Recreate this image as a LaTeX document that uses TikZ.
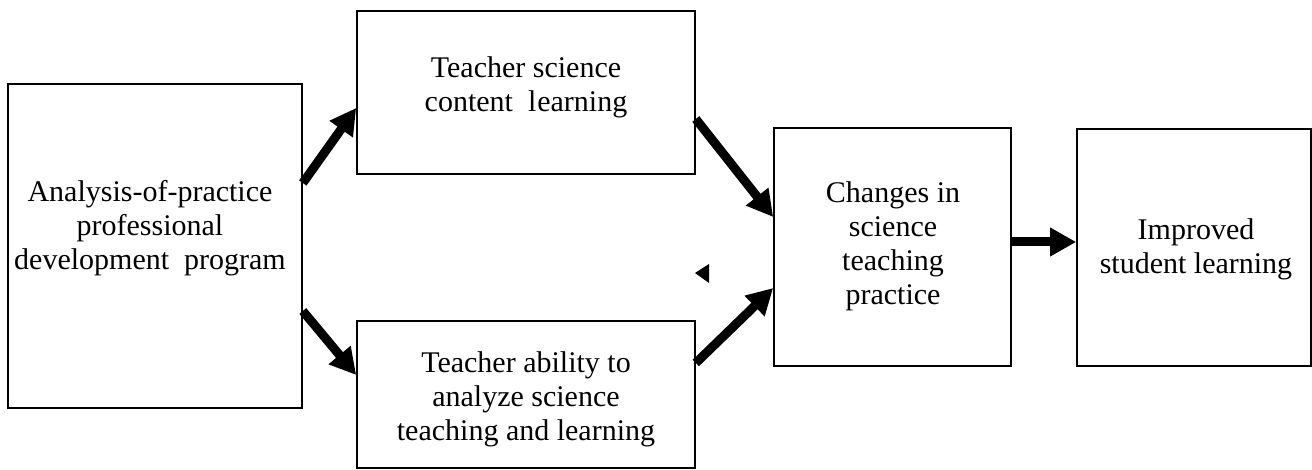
\documentclass[tikz,border=0pt]{standalone}
\usepackage{fontspec}
\setmainfont{Liberation Serif}
\usetikzlibrary{arrows.meta}
\begin{document}
\begin{tikzpicture}[x=1pt,y=-1pt,
  box/.style={draw, line width=1.6pt, inner sep=0pt, rectangle},
  lbl/.style={align=center, inner sep=0pt, font=\fontsize{30}{34}\selectfont},
  arr/.style={line width=9pt, -{Triangle[length=26pt,width=27pt]}, shorten <=0pt}
]
\useasboundingbox (0,0) rectangle (1312,470);
% boxes
\node[box, minimum width=294pt, minimum height=324pt] (b1) at (155,246) {};
\node[box, minimum width=338pt, minimum height=163pt] (b2) at (526,92.5) {};
\node[box, minimum width=338pt, minimum height=147pt] (b3) at (526,394.5) {};
\node[box, minimum width=237pt, minimum height=238pt] (b4) at (892.5,247) {};
\node[box, minimum width=234pt, minimum height=237pt] (b5) at (1194,247.5) {};
% labels
\node[lbl] (t1) at (150,228) {Analysis-of-practice\\professional\\development\ \ program};
\node[lbl] (t2) at (526,87) {Teacher science\\content\ \ l\kern1pt earning};
\node[lbl] (t3) at (526,399) {Teacher ability to\\analyze science\\teaching and learning};
\node[lbl] (t4) at (893,246) {Changes in\\science\\teaching\\practice};
\node[lbl] (t5) at (1196,249) {Improved\\student learning};
% connectors
\draw[arr] ([yshift=63pt]b1.east) -- ([yshift=-15.5pt]b2.west);
\draw[arr] ([yshift=-65pt]b1.east) -- ([yshift=19.5pt]b3.west);
\draw[arr] ([yshift=-26.5pt]b2.east) -- ([yshift=30pt]b4.west);
\draw[arr] ([yshift=31.5pt]b3.east) -- ([yshift=-41pt]b4.west);
\draw[arr] ([yshift=5pt]b4.east) -- ([yshift=5.5pt]b5.west);
% stray mark
\fill (695,273) -- (709,264) -- (709,283) -- cycle;
\end{tikzpicture}
\end{document}
